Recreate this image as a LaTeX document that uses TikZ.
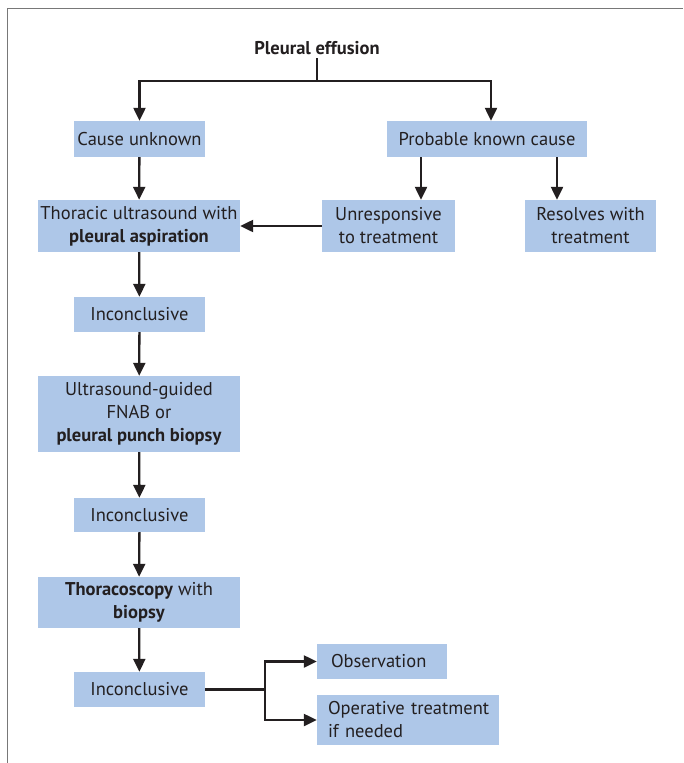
\documentclass[tikz,border=0pt]{standalone}
\usepackage{fontspec}
\setmainfont{PT Sans}
\usetikzlibrary{arrows.meta,calc}
\definecolor{BoxBlue}{RGB}{174,199,232}
\definecolor{InkDark}{RGB}{35,31,32}
\definecolor{FrameGray}{RGB}{120,120,120}

\begin{document}
\begin{tikzpicture}[x=1pt,y=-1pt,>={Triangle[length=13pt,width=12pt]},
  box/.style={fill=BoxBlue,inner sep=0pt,align=center,text=InkDark,
    font=\fontsize{18.5}{23}\selectfont},
  link/.style={line width=2.3pt,draw=InkDark}]
  \useasboundingbox (0,0) rectangle (683,763);
  \draw[FrameGray,line width=1pt] (7,763) -- (7,8) -- (683,8);

  \node[text=InkDark,font=\fontsize{18.5}{23}\selectfont\bfseries] (effusion) at (317,48) {Pleural effusion};
  \node[box,minimum width=131,minimum height=36] (unknown) at (139.5,139) {Cause unknown};
  \node[box,minimum width=200,minimum height=36] (probable) at (487,139) {Probable known cause};
  \node[box,minimum width=202,minimum height=52] (thoracic) at (139,226) {Thoracic ultrasound with\\\textbf{pleural aspiration}};
  \node[box,minimum width=133,minimum height=52] (unresp) at (388.5,226) {Unresponsive\\to treatment};
  \node[box,minimum width=131,minimum height=52] (resolves) at (590.5,226) {Resolves with\\treatment};
  \node[box,minimum width=131,minimum height=35] (inc1) at (139.5,314.5) {Inconclusive};
  \node[box,minimum width=202,minimum height=76] (guided) at (139,414) {Ultrasound-guided\\FNAB or\\\textbf{pleural punch biopsy}};
  \node[box,minimum width=131,minimum height=34] (inc2) at (139.5,515) {Inconclusive};
  \node[box,minimum width=202,minimum height=51] (thoraco) at (139,602.5) {\textbf{Thoracoscopy} with\\\textbf{biopsy}};
  \node[box,minimum width=131,minimum height=35] (inc3) at (139.5,689.5) {Inconclusive};
  \node[box,align=left,text width=102,inner xsep=14pt,minimum height=35] (obs) at (382,661.5) {Observation};
  \node[box,align=left,text width=160,inner xsep=11pt,minimum height=50] (oper) at (408,720) {\mbox{Operative treatment}\\if needed};

  \coordinate (split) at (317,81);
  \draw[link] (effusion.south) -- (split);
  \draw[link,->] (split) -| (unknown.north);
  \draw[link,->] (split) -| ([xshift=4]probable.north);
  \draw[link,->] (unknown) -- (thoracic);
  \coordinate (p1) at ([xshift=-66]probable.south);
  \coordinate (p2) at ([xshift=70]probable.south);
  \draw[link,->] (p1) -- (p1 |- unresp.north);
  \draw[link,->] (p2) -- (p2 |- resolves.north);
  \draw[link,->] (unresp) -- (thoracic);
  \draw[link,->] (thoracic) -- (inc1);
  \draw[link,->] (inc1) -- (guided);
  \draw[link,->] (guided) -- (inc2);
  \draw[link,->] (inc2) -- (thoraco);
  \draw[link,->] (thoraco) -- (inc3);
  \coordinate (fork) at ([xshift=60]inc3.east);
  \draw[link] (inc3.east) -- (fork);
  \draw[link,->] (fork) |- (obs.west);
  \draw[link,->] (fork) |- (oper.west);
\end{tikzpicture}
\end{document}
